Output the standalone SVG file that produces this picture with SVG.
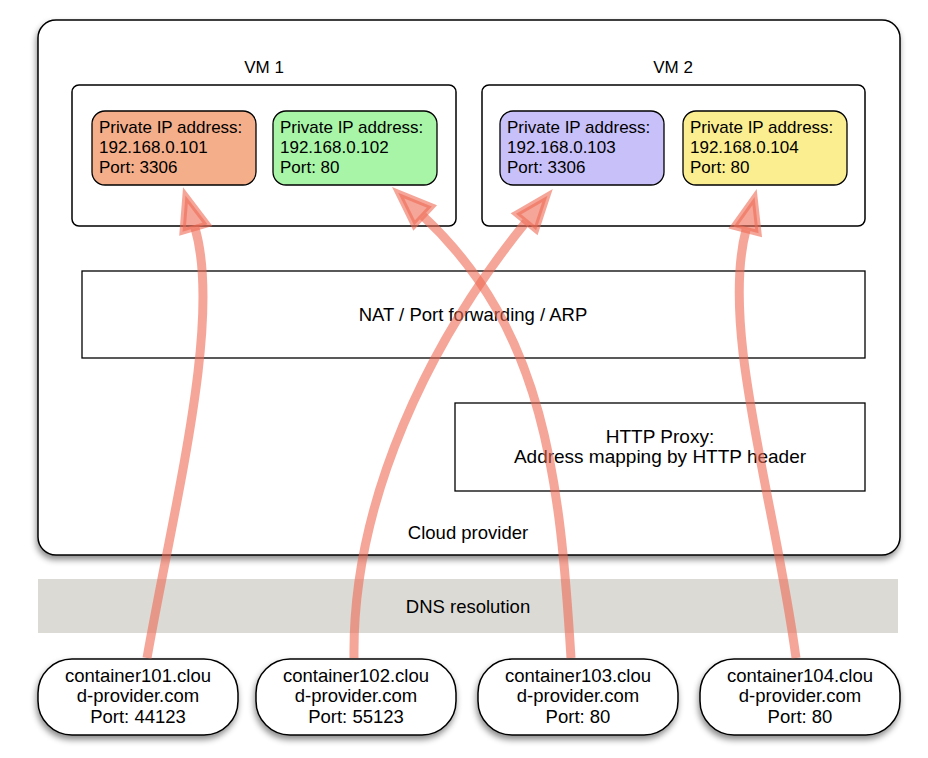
<svg xmlns="http://www.w3.org/2000/svg" width="928" height="758" viewBox="0 0 928 758">
<style>
text{font-family:"Liberation Sans",Arial,sans-serif;font-size:18.5px;fill:#000}
.s{font-size:17px}
.c{text-anchor:middle}
.frame{fill:#fff;stroke:#000;stroke-width:1.5}
.ip{stroke:#000;stroke-width:1.3}
.arrow{fill:none;stroke:#ee6a55;stroke-opacity:0.6;stroke-width:9}
</style>
<defs>
<filter id="sh" x="-10%" y="-10%" width="120%" height="130%">
<feDropShadow dx="-1" dy="4" stdDeviation="3" flood-color="#000" flood-opacity="0.45"/>
</filter>
<marker id="ah" markerUnits="userSpaceOnUse" markerWidth="50" markerHeight="40" refX="0" refY="0" orient="auto" overflow="visible">
<path d="M0,-13 L34,0 L0,13 z" fill="#ee6a55" fill-opacity="0.6" stroke="#ee6a55" stroke-opacity="0.6" stroke-width="6"/>
</marker>
</defs>

<g id="cloud-provider">
<rect x="38" y="20" width="862" height="535" rx="18" class="frame" filter="url(#sh)"/>
<text class="c" x="468" y="539">Cloud provider</text>
</g>

<g id="vm1">
<rect x="72" y="85" width="384" height="141" rx="7" class="frame"/>
<text class="c s" x="264" y="73">VM 1</text>
</g>
<g id="vm2">
<rect x="482" y="85" width="383" height="141" rx="7" class="frame"/>
<text class="c s" x="673" y="73">VM 2</text>
</g>

<g id="ip101">
<rect x="92" y="111" width="164" height="74" rx="13" class="ip" fill="#f4ae8a"/>
<text class="s" x="99" y="133">Private IP address:</text>
<text class="s" x="99" y="153">192.168.0.101</text>
<text class="s" x="99" y="173">Port: 3306</text>
</g>
<g id="ip102">
<rect x="273" y="111" width="164" height="74" rx="13" class="ip" fill="#a8f5a8"/>
<text class="s" x="280" y="133">Private IP address:</text>
<text class="s" x="280" y="153">192.168.0.102</text>
<text class="s" x="280" y="173">Port: 80</text>
</g>
<g id="ip103">
<rect x="500" y="111" width="164" height="74" rx="13" class="ip" fill="#c8c0f8"/>
<text class="s" x="507" y="133">Private IP address:</text>
<text class="s" x="507" y="153">192.168.0.103</text>
<text class="s" x="507" y="173">Port: 3306</text>
</g>
<g id="ip104">
<rect x="683" y="111" width="164" height="74" rx="13" class="ip" fill="#fbee90"/>
<text class="s" x="690" y="133">Private IP address:</text>
<text class="s" x="690" y="153">192.168.0.104</text>
<text class="s" x="690" y="173">Port: 80</text>
</g>

<g id="nat">
<rect x="82" y="271" width="783" height="87" fill="#fff" stroke="#000" stroke-width="1.3"/>
<text class="c" x="473" y="321">NAT / Port forwarding / ARP</text>
</g>

<g id="http-proxy">
<rect x="455" y="403" width="410" height="88" fill="#fff" stroke="#000" stroke-width="1.3"/>
<text class="c" x="660" y="443" style="font-size:19px">HTTP Proxy:</text>
<text class="c" x="660" y="463" style="font-size:19px">Address mapping by HTTP header</text>
</g>

<g id="dns">
<rect x="38" y="579" width="860" height="54" fill="#dcdad5"/>
<text class="c" x="468" y="613">DNS resolution</text>
</g>

<g id="container101">
<rect x="38" y="659" width="200" height="76" rx="34" class="frame" filter="url(#sh)"/>
<text class="c" x="138" y="682">container101.clou</text>
<text class="c" x="138" y="702">d-provider.com</text>
<text class="c" x="138" y="723">Port: 44123</text>
</g>
<g id="container102">
<rect x="256" y="659" width="200" height="76" rx="34" class="frame" filter="url(#sh)"/>
<text class="c" x="356" y="682">container102.clou</text>
<text class="c" x="356" y="702">d-provider.com</text>
<text class="c" x="356" y="723">Port: 55123</text>
</g>
<g id="container103">
<rect x="478" y="659" width="200" height="76" rx="34" class="frame" filter="url(#sh)"/>
<text class="c" x="578" y="682">container103.clou</text>
<text class="c" x="578" y="702">d-provider.com</text>
<text class="c" x="578" y="723">Port: 80</text>
</g>
<g id="container104">
<rect x="700" y="659" width="200" height="76" rx="34" class="frame" filter="url(#sh)"/>
<text class="c" x="800" y="682">container104.clou</text>
<text class="c" x="800" y="702">d-provider.com</text>
<text class="c" x="800" y="723">Port: 80</text>
</g>

<g id="connectors">
<path class="arrow" marker-end="url(#ah)" d="M147,658 C175,500 222,320 195,228"/>
<path class="arrow" marker-end="url(#ah)" d="M571,658 C560,480 545,330 423,216"/>
<path class="arrow" marker-end="url(#ah)" d="M354,658 C352,500 430,340 526,222"/>
<path class="arrow" marker-end="url(#ah)" d="M796,658 C775,500 720,330 746,230"/>
</g>
</svg>
